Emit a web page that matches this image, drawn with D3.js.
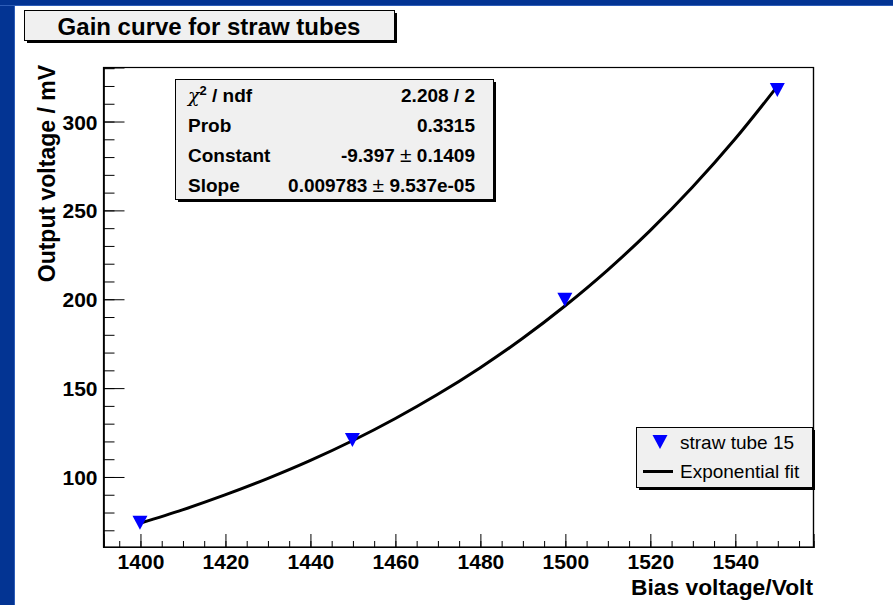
<!DOCTYPE html>
<html><head><meta charset="utf-8">
<script src="https://cdn.jsdelivr.net/npm/d3@7"></script>
<style>
html,body{margin:0;padding:0;background:#fff;}
svg{display:block;}
text{font-family:"Liberation Sans",Arial,Helvetica,sans-serif;}
</style></head>
<body>
<svg id="c" width="893" height="605"></svg>
<script>
// ---- data ----
const title = "Gain curve for straw tubes";
const voltages = [1400, 1450, 1500, 1550];
const outputs = [74, 120.5, 199.5, 317.5];
const fitVoltages = [1400, 1410, 1420, 1430, 1440, 1450, 1460, 1470, 1480, 1490, 1500, 1510, 1520, 1530, 1540, 1550];
const fitOutputs = [73.7, 81.2, 89.6, 98.8, 108.9, 120.1, 132.5, 146.1, 161.1, 177.6, 195.9, 216.0, 238.2, 262.7, 289.7, 319.5];
const xTickLabels = [1400, 1420, 1440, 1460, 1480, 1500, 1520, 1540];
const xMinorTicks = [1395,1400,1405,1410,1415,1420,1425,1430,1435,1440,1445,1450,1455,1460,1465,1470,1475,1480,1485,1490,1495,1500,1505,1510,1515,1520,1525,1530,1535,1540,1545,1550,1555];
const yTickLabels = [100, 150, 200, 250, 300];
const yMinorTicks = [70, 80, 90, 100, 110, 120, 130, 140, 150, 160, 170, 180, 190, 200, 210, 220, 230, 240, 250, 260, 270, 280, 290, 300, 310, 320, 330];
const statNames = ["χ2 / ndf", "Prob", "Constant", "Slope"];
const statValues = [["2.208 / 2"], ["0.3315"], ["-9.397 ", "±", " 0.1409"], ["0.009783 ", "±", " 9.537e-05"]];
const legendLabels = ["straw tube 15", "Exponential fit"];
const xTitle = "Bias voltage/Volt";
const yTitle = "Output voltage / mV";

// ---- layout ----
const W = 893, H = 605;
const F = {left: 103, right: 813, top: 67, bottom: 546.5};
const svg = d3.select("#c");

// background frame (blue canvas border)
svg.append("rect").attr("x",0).attr("y",0).attr("width",W).attr("height",H).attr("fill","#033493");
svg.append("rect").attr("x",0).attr("y",5).attr("width",W).attr("height",1).attr("fill","#2d5db8");
svg.append("rect").attr("x",15).attr("y",6).attr("width",W-15).attr("height",H-6).attr("fill","#ffffff");
svg.append("rect").attr("x",14).attr("y",6).attr("width",1).attr("height",H-6).attr("fill","#2d5db8");

const x = d3.scaleLinear().domain([1391.3, 1558.4]).range([F.left, F.right]);
const y = d3.scaleLinear().domain([60.6, 330.4]).range([F.bottom, F.top]);

// frame
svg.append("rect").attr("x",F.left+0.5).attr("y",F.top+0.5)
  .attr("width",F.right-F.left).attr("height",F.bottom-F.top)
  .attr("fill","#fff").attr("stroke","#000").attr("stroke-width",1.2);

// axes
const xMinor = svg.append("g").attr("transform",`translate(0.5,${F.bottom+0.5})`)
  .call(d3.axisBottom(x).tickValues(xMinorTicks).tickSize(-6).tickFormat(""));
const xMajor = svg.append("g").attr("transform",`translate(0.5,${F.bottom+0.5})`)
  .call(d3.axisBottom(x).tickValues(xTickLabels).tickSize(-13).tickFormat(d3.format("d")));
const yMinor = svg.append("g").attr("transform",`translate(${F.left+0.5},0.5)`)
  .call(d3.axisLeft(y).tickValues(yMinorTicks).tickSize(-11).tickFormat(""));
const yMajor = svg.append("g").attr("transform",`translate(${F.left+0.5},0.5)`)
  .call(d3.axisLeft(y).tickValues(yTickLabels).tickSize(-21).tickFormat(d3.format("d")));
[xMinor,xMajor,yMinor,yMajor].forEach(g=>{
  g.select(".domain").attr("stroke","#000").attr("stroke-width",1.2);
  g.selectAll(".tick line").attr("stroke","#000").attr("stroke-width",1);
  g.selectAll(".tick text").attr("fill","#000").attr("font-size",21).attr("font-weight","bold")
   .attr("font-family","'Liberation Sans',Arial,Helvetica,sans-serif");
});
xMajor.selectAll(".tick text").attr("dy",null).attr("y",21.5);
yMajor.selectAll(".tick text").attr("x",-6).attr("dy","0.36em");

// axis titles
svg.append("text").attr("x",F.right).attr("y",595).attr("text-anchor","end")
  .attr("font-size",22.8).attr("font-weight","bold").text(xTitle);
svg.append("text").attr("transform",`translate(55,${F.top-2}) rotate(-90)`).attr("text-anchor","end")
  .attr("font-size",23).attr("font-weight","bold").text(yTitle);

// fit curve
const line = d3.line().x((d,i)=>x(fitVoltages[i])).y(d=>y(d)).curve(d3.curveMonotoneX);
svg.append("path").datum(fitOutputs).attr("d",line).attr("fill","none")
  .attr("stroke","#000").attr("stroke-width",3);

// markers (inverted triangles)
const tri = (cx,cy)=>`M${cx-7.5},${cy-7}L${cx+7.5},${cy-7}L${cx},${cy+7}Z`;
svg.append("g").selectAll("path").data(outputs).join("path")
  .attr("d",(d,i)=>tri(x(voltages[i]), y(d))).attr("fill","#0000ff");

// boxes with shadow
function box(x0,y0,w,h){
  svg.append("rect").attr("x",x0+3).attr("y",y0+3).attr("width",w).attr("height",h).attr("fill","#000");
  svg.append("rect").attr("x",x0+0.5).attr("y",y0+0.5).attr("width",w).attr("height",h)
    .attr("fill","#f0f0f0").attr("stroke","#000").attr("stroke-width",1);
}
box(24,10,370,30);
svg.append("text").attr("x",209).attr("y",35).attr("text-anchor","middle")
  .attr("font-size",24).attr("font-weight","bold").text(title);

// stats box
box(175,79,318,120);
const rowY = [102, 132, 162, 192];
statNames.forEach((n,i)=>{
  const t = svg.append("text").attr("x",188).attr("y",rowY[i]).attr("font-size",19).attr("font-weight","bold");
  if(i===0){
    t.append("tspan").attr("font-weight","normal").attr("font-family","'DejaVu Serif',serif").attr("font-style","italic").text("χ");
    t.append("tspan").attr("font-size",13).attr("dy",-7).text("2");
    t.append("tspan").attr("dy",7).text(" / ndf");
  } else t.text(n);
  const v = svg.append("text").attr("x",475).attr("y",rowY[i]).attr("text-anchor","end")
    .attr("font-size",19).attr("font-weight","bold");
  statValues[i].forEach((s,k)=>{
    const sp = v.append("tspan").text(s).attr("xml:space","preserve");
    if(s==="±") sp.attr("font-weight","normal").attr("font-size",21);
  });
});

// legend
box(636,427,176,60);
svg.append("path").attr("d",tri(660,442)).attr("fill","#0000ff");
svg.append("line").attr("x1",643).attr("x2",673).attr("y1",471.5).attr("y2",471.5)
  .attr("stroke","#000").attr("stroke-width",3);
svg.append("text").attr("x",680).attr("y",449).attr("font-size",19).text(legendLabels[0]);
svg.append("text").attr("x",680).attr("y",478).attr("font-size",19).text(legendLabels[1]);
// frame right edge over legend shadow
svg.append("line").attr("x1",F.right+0.5).attr("x2",F.right+0.5).attr("y1",F.top).attr("y2",F.bottom+1)
  .attr("stroke","#000").attr("stroke-width",1.2);
</script>
</body></html>
